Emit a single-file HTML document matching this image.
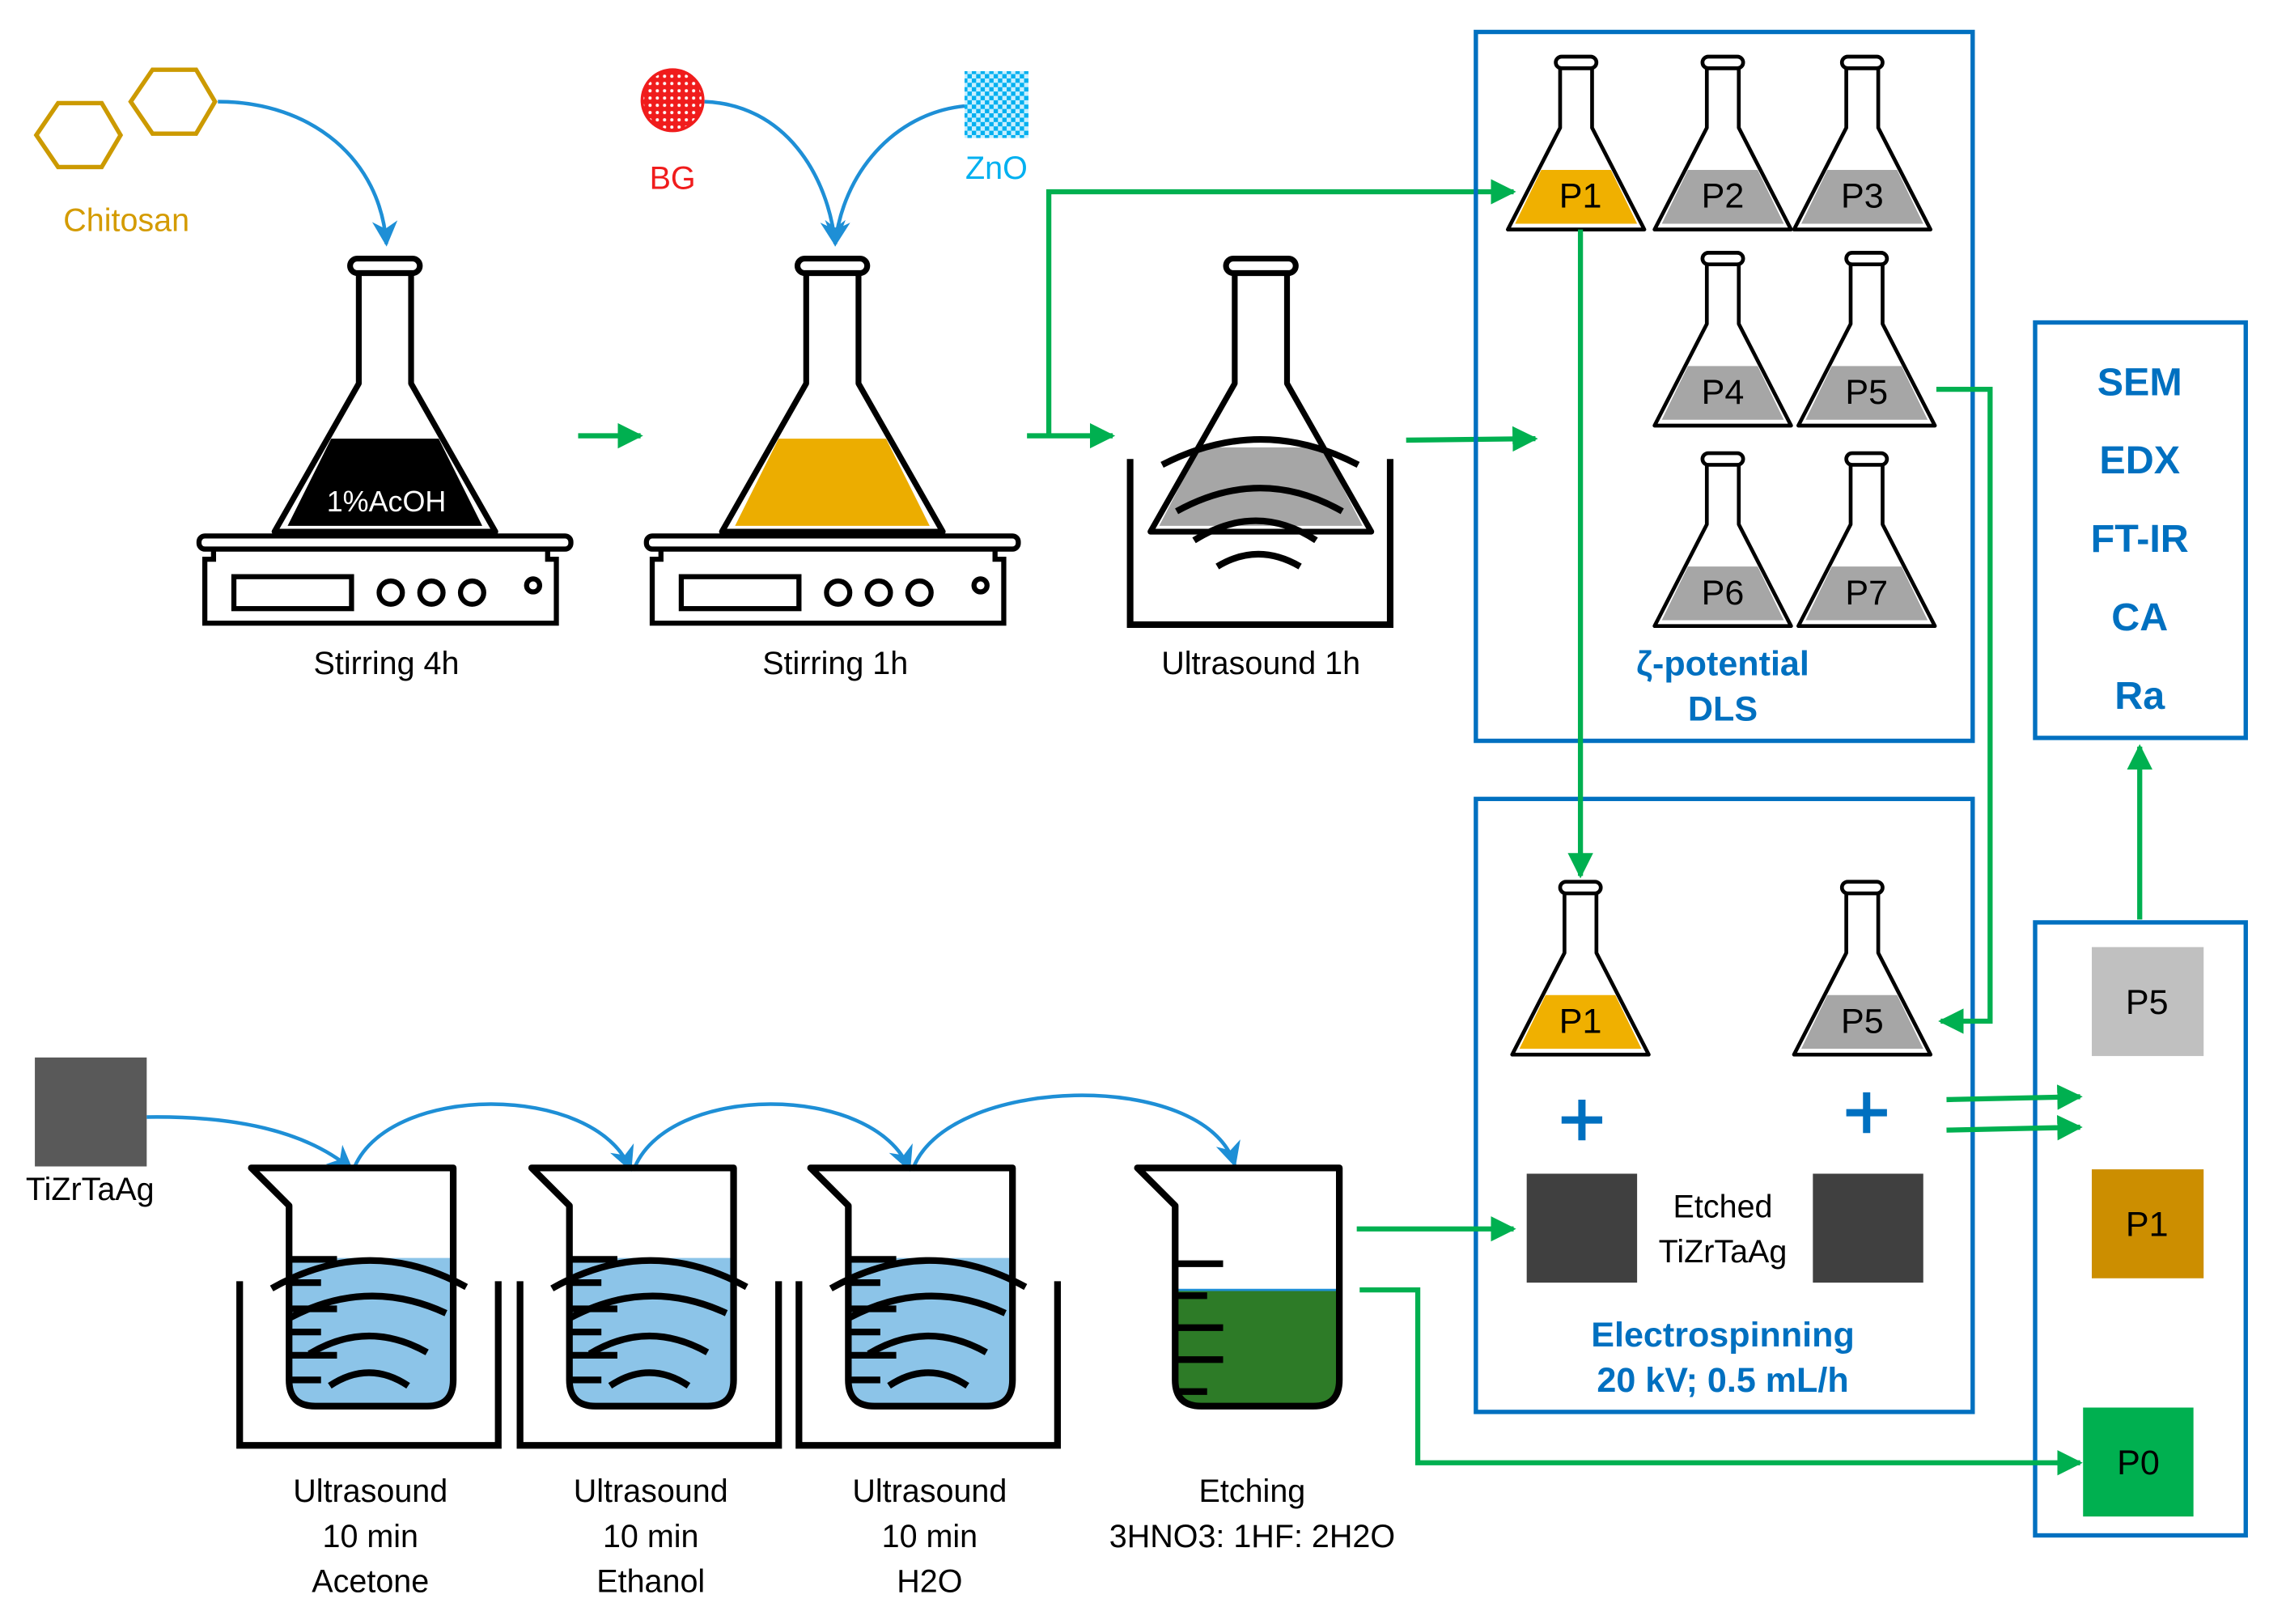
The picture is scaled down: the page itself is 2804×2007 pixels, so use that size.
<!DOCTYPE html>
<html><head><meta charset="utf-8"><style>
html,body{margin:0;padding:0;background:#fff}
svg{display:block}
text{font-family:"Liberation Sans",Arial,sans-serif}
</style></head><body>
<svg width="2804" height="2007" viewBox="0 0 1562 1118" preserveAspectRatio="none" xmlns="http://www.w3.org/2000/svg">
<defs>
<marker id="ag" viewBox="0 0 10 10" refX="9" refY="5" markerWidth="5" markerHeight="5" orient="auto" markerUnits="strokeWidth"><path d="M0,0 L10,5 L0,10 z" fill="#00b050"/></marker>
<marker id="ab" viewBox="0 0 10 10" refX="9" refY="5" markerWidth="7" markerHeight="7" orient="auto" markerUnits="strokeWidth"><path d="M0,0 L10,5 L0,10 L3,5 z" fill="#1e8fd6"/></marker>
<pattern id="dots" width="5" height="5" patternUnits="userSpaceOnUse"><rect width="5" height="5" fill="#f01c1c"/><circle cx="2.5" cy="2.5" r="1.1" fill="#fff"/></pattern>
<pattern id="chk" width="6" height="6" patternUnits="userSpaceOnUse"><rect width="6" height="6" fill="#00b0f0"/><rect width="3" height="3" fill="#c8efff"/><rect x="3" y="3" width="3" height="3" fill="#c8efff"/></pattern>
<g id="bigf" fill="none" stroke="#000" stroke-width="4" stroke-linejoin="round">
<rect x="-24" y="0" width="48" height="10" rx="5" fill="#fff"/>
<path d="M-18,10 L-18,86 L-76,188 L76,188 L18,86 L18,10"/>
</g>
<g id="smf" fill="none" stroke="#000" stroke-width="2.6" stroke-linejoin="round">
<rect x="-14" y="0" width="28" height="8" rx="4" fill="#fff"/>
<path d="M-11,8 L-11,49 L-47,119 L47,119 L11,49 L11,8"/>
</g>
<path id="smliq" d="M-24,78 L24,78 L42,115 L-42,115 z"/>
<g id="plate" fill="none" stroke="#000" stroke-width="3.5">
<rect x="-128" y="2" width="256" height="9" rx="4" fill="#fff"/>
<path d="M-118,11 L-118,18 L-124,18 L-124,62 L118,62 L118,18 L112,18 L112,11"/>
<rect x="-104" y="30" width="81" height="22"/>
<circle cx="4" cy="41" r="8"/><circle cx="32" cy="41" r="8"/><circle cx="60" cy="41" r="8"/>
<circle cx="102" cy="36" r="4.5"/>
</g>
<g id="beakout" fill="none" stroke="#000" stroke-width="4.6" stroke-linejoin="round">
<path d="M0,0 L139,0 L139,146 Q139,164 121,164 L44,164 Q26,164 26,146 L26,26 Z"/>
</g>
<g id="ticks" stroke="#000" stroke-width="4.6">
<path d="M26,63 H59 M26,79 H48 M26,97 H59 M26,113 H48 M26,129 H59 M26,146 H48"/>
</g>
<g id="warcs" fill="none" stroke="#000" stroke-width="4.6">
<path d="M14,83 Q81,45 148,82"/>
<path d="M27,103 Q80,75 134,100"/>
<path d="M40,128 Q80,104 121,127"/>
<path d="M54,150 Q81,132 108,150"/>
</g>
</defs>

<g fill="none" stroke="#cc9a00" stroke-width="3">
<polygon points="25,93 40,71 70,71 83,93 70,115 40,115"/>
<polygon points="90,70 105,48 135,48 148,70 135,92 105,92"/>
</g>
<text x="87" y="159" font-size="22" fill="#d49b00" text-anchor="middle">Chitosan</text>
<path d="M150,70 C215,70 262,110 266,168" fill="none" stroke="#1e8fd6" stroke-width="2.5" marker-end="url(#ab)"/>

<circle cx="463" cy="69" r="21" fill="url(#dots)" stroke="#f01c1c" stroke-width="2"/>
<text x="463" y="130" font-size="22" fill="#f01c1c" text-anchor="middle">BG</text>
<rect x="664" y="49" width="44" height="46" fill="url(#chk)"/>
<text x="686" y="123" font-size="22" fill="#00b0f0" text-anchor="middle">ZnO</text>
<path d="M485,70 C540,72 570,120 575,168" fill="none" stroke="#1e8fd6" stroke-width="2.5" marker-end="url(#ab)"/>
<path d="M664,73 C615,78 580,120 575,168" fill="none" stroke="#1e8fd6" stroke-width="2.5" marker-end="url(#ab)"/>

<path d="M228,302 L302,302 L332,362 L198,362 z" fill="#000"/>
<use href="#bigf" x="265" y="178"/>
<text x="266" y="352" font-size="20" fill="#fff" text-anchor="middle">1%AcOH</text>
<use href="#plate" x="265" y="367"/>
<text x="266" y="464" font-size="22" text-anchor="middle">Stirring 4h</text>

<path d="M536,302 L610,302 L640,362 L506,362 z" fill="#ecad00"/>
<use href="#bigf" x="573" y="178"/>
<use href="#plate" x="573" y="367"/>
<text x="575" y="464" font-size="22" text-anchor="middle">Stirring 1h</text>

<path d="M826,308 L910,308 L938,362 L798,362 z" fill="#a6a6a6"/>
<use href="#bigf" x="868" y="178"/>
<g fill="none" stroke="#000" stroke-width="4.5">
<path d="M778,316 V430 H957 V316"/>
<path d="M800,320 Q868,285 935,320"/>
<path d="M810,352 Q868,320 924,352"/>
<path d="M822,372 Q865,345 906,372"/>
<path d="M838,390 Q866,373 895,390"/>
</g>
<text x="868" y="464" font-size="22" text-anchor="middle">Ultrasound 1h</text>

<g fill="none" stroke="#00b050" stroke-width="3.5">
<path d="M398,300 H441" marker-end="url(#ag)"/>
<path d="M707,300 H766" marker-end="url(#ag)"/>
<path d="M722,300 V132 H1042" marker-end="url(#ag)"/>
<path d="M968,303 L1057,302" marker-end="url(#ag)"/>
</g>

<rect x="1016" y="22" width="342" height="488" fill="none" stroke="#0070c0" stroke-width="3"/>
<g>
<use href="#smliq" x="1085" y="39" fill="#f0b000"/>
<use href="#smliq" x="1186" y="39" fill="#a6a6a6"/>
<use href="#smliq" x="1282" y="39" fill="#a6a6a6"/>
<use href="#smliq" x="1186" y="174" fill="#a6a6a6"/>
<use href="#smliq" x="1285" y="174" fill="#a6a6a6"/>
<use href="#smliq" x="1186" y="312" fill="#a6a6a6"/>
<use href="#smliq" x="1285" y="312" fill="#a6a6a6"/>
<use href="#smf" x="1085" y="39"/>
<use href="#smf" x="1186" y="39"/>
<use href="#smf" x="1282" y="39"/>
<use href="#smf" x="1186" y="174"/>
<use href="#smf" x="1285" y="174"/>
<use href="#smf" x="1186" y="312"/>
<use href="#smf" x="1285" y="312"/>
</g>
<g font-size="24" text-anchor="middle">
<text x="1088" y="143">P1</text><text x="1186" y="143">P2</text><text x="1282" y="143">P3</text>
<text x="1186" y="278">P4</text><text x="1285" y="278">P5</text>
<text x="1186" y="416">P6</text><text x="1285" y="416">P7</text>
</g>
<text x="1186" y="465" font-size="24" font-weight="bold" fill="#0070c0" text-anchor="middle">ζ-potential</text>
<text x="1186" y="496" font-size="24" font-weight="bold" fill="#0070c0" text-anchor="middle">DLS</text>

<rect x="1401" y="222" width="145" height="286" fill="none" stroke="#0070c0" stroke-width="3"/>
<g font-size="27" font-weight="bold" fill="#0070c0" text-anchor="middle">
<text x="1473" y="272">SEM</text><text x="1473" y="326">EDX</text><text x="1473" y="380">FT-IR</text><text x="1473" y="434">CA</text><text x="1473" y="488">Ra</text>
</g>

<rect x="1016" y="550" width="342" height="422" fill="none" stroke="#0070c0" stroke-width="3"/>
<use href="#smliq" x="1088" y="607" fill="#f0b000"/>
<use href="#smliq" x="1282" y="607" fill="#a6a6a6"/>
<use href="#smf" x="1088" y="607"/>
<use href="#smf" x="1282" y="607"/>
<text x="1088" y="711" font-size="24" text-anchor="middle">P1</text>
<text x="1282" y="711" font-size="24" text-anchor="middle">P5</text>
<g stroke="#0070c0" stroke-width="5">
<path d="M1075,771 H1103 M1089,757 V785"/>
<path d="M1271,766 H1299 M1285,752 V780"/>
</g>
<rect x="1051" y="808" width="76" height="75" fill="#404040"/>
<rect x="1248" y="808" width="76" height="75" fill="#404040"/>
<text x="1186" y="838" font-size="22" text-anchor="middle">Etched</text>
<text x="1186" y="869" font-size="22" text-anchor="middle">TiZrTaAg</text>
<text x="1186" y="927" font-size="24" font-weight="bold" fill="#0070c0" text-anchor="middle">Electrospinning</text>
<text x="1186" y="958" font-size="24" font-weight="bold" fill="#0070c0" text-anchor="middle">20 kV; 0.5 mL/h</text>

<rect x="1401" y="635" width="145" height="422" fill="none" stroke="#0070c0" stroke-width="3"/>
<rect x="1440" y="652" width="77" height="75" fill="#c0c0c0"/>
<rect x="1440" y="805" width="77" height="75" fill="#cc8e00"/>
<rect x="1434" y="969" width="76" height="75" fill="#00b050"/>
<g font-size="24" text-anchor="middle">
<text x="1478" y="698">P5</text><text x="1478" y="851">P1</text><text x="1472" y="1015">P0</text>
</g>

<g fill="none" stroke="#00b050" stroke-width="3.5">
<path d="M1088,158 V603" marker-end="url(#ag)"/>
<path d="M1333,268 H1370 V703 H1336" marker-end="url(#ag)"/>
<path d="M1340,757 L1432,755" marker-end="url(#ag)"/>
<path d="M1340,778 L1432,776" marker-end="url(#ag)"/>
<path d="M1473,633 V514" marker-end="url(#ag)"/>
<path d="M934,846 H1042" marker-end="url(#ag)"/>
<path d="M936,888 H976 V1007 H1432" marker-end="url(#ag)"/>
</g>

<rect x="24" y="728" width="77" height="75" fill="#595959"/>
<text x="62" y="826" font-size="22" text-anchor="middle">TiZrTaAg</text>
<g fill="none" stroke="#1e8fd6" stroke-width="2.5">
<path d="M101,769 C170,768 215,782 242,805" marker-end="url(#ab)"/>
<path d="M243,806 C265,745 410,745 434,805" marker-end="url(#ab)"/>
<path d="M436,806 C458,745 602,745 626,805" marker-end="url(#ab)"/>
<path d="M628,806 C650,740 830,735 850,802" marker-end="url(#ab)"/>
</g>

<g transform="translate(173,804)">
<path d="M26,62 H139 V146 Q139,164 121,164 H44 Q26,164 26,146 Z" fill="#8cc4e8"/>
<use href="#ticks"/><use href="#warcs"/><use href="#beakout"/>
<path d="M-8,78 V191 H170 V78" fill="none" stroke="#000" stroke-width="4.6"/>
</g>
<g transform="translate(366,804)">
<path d="M26,62 H139 V146 Q139,164 121,164 H44 Q26,164 26,146 Z" fill="#8cc4e8"/>
<use href="#ticks"/><use href="#warcs"/><use href="#beakout"/>
<path d="M-8,78 V191 H170 V78" fill="none" stroke="#000" stroke-width="4.6"/>
</g>
<g transform="translate(558,804)">
<path d="M26,62 H139 V146 Q139,164 121,164 H44 Q26,164 26,146 Z" fill="#8cc4e8"/>
<use href="#ticks"/><use href="#warcs"/><use href="#beakout"/>
<path d="M-8,78 V191 H170 V78" fill="none" stroke="#000" stroke-width="4.6"/>
</g>
<g transform="translate(783,804)">
<path d="M26,84 H139 V146 Q139,164 121,164 H44 Q26,164 26,146 Z" fill="#2d7b27"/>
<path d="M26,84 H139" stroke="#1e8fd6" stroke-width="1.5"/>
<g stroke="#000" stroke-width="4.6"><path d="M26,66 H59 M26,88 H48 M26,110 H59 M26,132 H59 M26,154 H48"/></g>
<use href="#beakout"/>
</g>

<g font-size="22" text-anchor="middle">
<text x="255" y="1034">Ultrasound</text><text x="255" y="1065">10 min</text><text x="255" y="1096">Acetone</text>
<text x="448" y="1034">Ultrasound</text><text x="448" y="1065">10 min</text><text x="448" y="1096">Ethanol</text>
<text x="640" y="1034">Ultrasound</text><text x="640" y="1065">10 min</text><text x="640" y="1096">H2O</text>
<text x="862" y="1034">Etching</text><text x="862" y="1065">3HNO3: 1HF: 2H2O</text>
</g>
</svg>
</body></html>
